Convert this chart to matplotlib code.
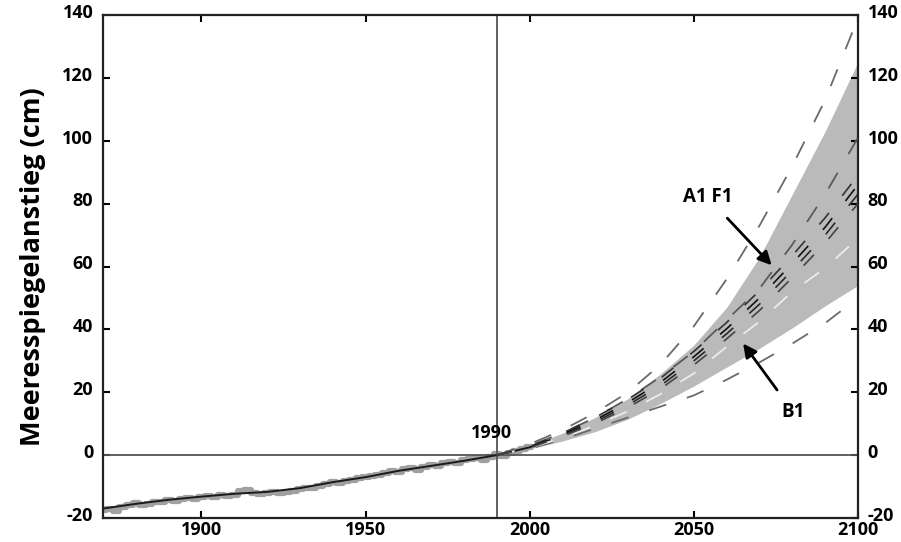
import numpy as np
import matplotlib.pyplot as plt
import matplotlib.transforms as mtransforms

plt.rcParams['font.family'] = ['Open Sans', 'DejaVu Sans']
plt.rcParams['font.weight'] = 'bold'
plt.rcParams['axes.unicode_minus'] = False

# Historical record (tide gauges), 2-year steps
obs_years = np.arange(1870, 2001, 2)
obs_vals = [-17.5, -17.0, -17.8, -16.5, -15.8, -15.2, -16.0, -15.5, -15.0, -14.8,
            -14.2, -14.6, -13.8, -13.5, -13.9, -13.2, -13.0, -13.4, -12.8, -12.9,
            -12.6, -11.5, -11.2, -12.0, -12.3, -12.0, -11.6, -12.2, -11.8, -11.3,
            -10.8, -10.4, -10.6, -9.8, -9.2, -8.6, -8.8, -8.2, -7.8, -7.2,
            -6.8, -6.5, -6.2, -5.6, -5.1, -5.3, -4.5, -4.2, -4.6, -3.8,
            -3.2, -3.6, -2.6, -2.2, -2.5, -1.6, -1.2, -0.8, -1.5, -0.6,
            0.2, -0.4, 0.8, 1.2, 1.8, 2.6]

# smoothed history
hist_years = [1870, 1880, 1890, 1900, 1910, 1920, 1930, 1940, 1950, 1960, 1970, 1980, 1990, 2000, 2006]
hist_vals = [-17.0, -15.5, -14.2, -13.2, -12.3, -11.7, -10.5, -8.6, -7.0, -5.0, -3.4, -1.8, 0.0, 2.5, 4.8]

# projections 1990-2100
proj_years = [1990, 2000, 2010, 2020, 2030, 2040, 2050, 2060, 2070, 2080, 2090, 2100]
band_low = [0, 2.0, 4.5, 7.5, 11.5, 16.5, 22, 28, 34, 40.5, 47.5, 54]
band_high = [0, 3.0, 7.0, 12, 18, 26, 35, 47, 63, 83, 103, 125]
outer_high = [0, 3.5, 8.0, 13.5, 20, 29, 41, 56, 73, 92, 113, 139]
outer_low = [0, 2.0, 5.0, 8.5, 12, 15.5, 19, 24, 29.5, 35.5, 42, 50]
inner_high = [0, 3.0, 7.0, 12, 18, 25, 33, 43, 53, 67, 83, 101]
a1f1_a = [0, 2.7, 7.0, 12.0, 17.8, 24.6, 33, 42.2, 52.3, 63.5, 75.5, 89]
a1f1_b = [0, 2.5, 6.6, 11.2, 16.8, 23.3, 31.3, 40.2, 50, 61, 72.5, 86]
a1f1_c = [0, 2.4, 6.3, 10.6, 16, 22.2, 30, 38.6, 48, 58.8, 70, 83]
a1f1_d = [0, 2.3, 6.0, 10.1, 15.2, 21.2, 28.7, 37, 46, 56.5, 67.5, 80]
b1_line = [0, 2.3, 5.5, 9.5, 14, 19.5, 26, 34.5, 42.5, 52, 59.5, 69]

fig = plt.figure(figsize=(9.01, 5.42), dpi=100)
ax = fig.add_axes([103/901, 1-518/542, 755/901, 503/542])

ax.fill_between(proj_years, band_low, band_high, color='#bababa', lw=0, zorder=1)

ax.plot(obs_years, obs_vals, drawstyle='steps-mid', color='#a0a0a0', lw=4.5, zorder=2)
ax.plot(hist_years, hist_vals, color='#1a1a1a', lw=1.4, zorder=3)

dash = (0, (10, 12))
ax.plot(proj_years, outer_high, color='#6a6a6a', lw=1.3, ls=dash, zorder=3)
ax.plot(proj_years, outer_low, color='#6a6a6a', lw=1.3, ls=dash, zorder=3)
ax.plot(proj_years, inner_high, color='#5a5a5a', lw=1.3, ls=dash, zorder=3)
ax.plot(proj_years, b1_line, color='#ececec', lw=1.3, ls=dash, zorder=3)
for vals, col in ((a1f1_a, '#333333'), (a1f1_b, '#111111'), (a1f1_c, '#2a2a2a'), (a1f1_d, '#444444')):
    ax.plot(proj_years, vals, color=col, lw=1.2, ls=(0, (9, 13)), zorder=4)

ax.axhline(0, color='#555555', lw=1.3, zorder=2.5)
ax.axvline(1990, color='#555555', lw=1.3, zorder=2.5)

ax.text(1988.2, 7, '1990', ha='center', va='center', fontsize=13, fontweight='bold')

ax.annotate('A1 F1', xy=(2073.7, 60.4), xytext=(2054.2, 82), ha='center', va='center',
            fontsize=13.5, fontweight='bold',
            arrowprops=dict(arrowstyle='-|>', color='black', lw=2, mutation_scale=20,
                            shrinkA=8, shrinkB=0))
ax.annotate('B1', xy=(2065, 35.5), xytext=(2080.2, 13.8), ha='center', va='center',
            fontsize=13.5, fontweight='bold',
            arrowprops=dict(arrowstyle='-|>', color='black', lw=2, mutation_scale=20,
                            shrinkA=8, shrinkB=0))

ax.set_xlim(1870, 2100)
ax.set_ylim(-20, 140)
ax.set_xticks([1900, 1950, 2000, 2050, 2100])
ax.set_yticks(range(-20, 141, 20))
ax.tick_params(direction='in', length=5, width=1.5, top=True, right=True,
               labelright=True, labelsize=13)
ax.tick_params(axis='y', pad=7)
ax.tick_params(axis='x', pad=2)
for lab in ax.get_xticklabels() + ax.get_yticklabels():
    lab.set_fontweight('bold')
for sp in ax.spines.values():
    sp.set_linewidth(1.6)
    sp.set_color('#222222')

# y tick labels sit a little above their ticks in the original
lift = mtransforms.ScaledTranslation(0, 3 / 72, fig.dpi_scale_trans)
for t in ax.yaxis.get_major_ticks():
    t.label1.set_transform(t.label1.get_transform() + lift)
    t.label2.set_transform(t.label2.get_transform() + lift)

ax.set_ylabel('Meeresspiegelanstieg (cm)', fontsize=19.5, fontweight='bold', labelpad=12)

fig.savefig('out.png', dpi=100)
